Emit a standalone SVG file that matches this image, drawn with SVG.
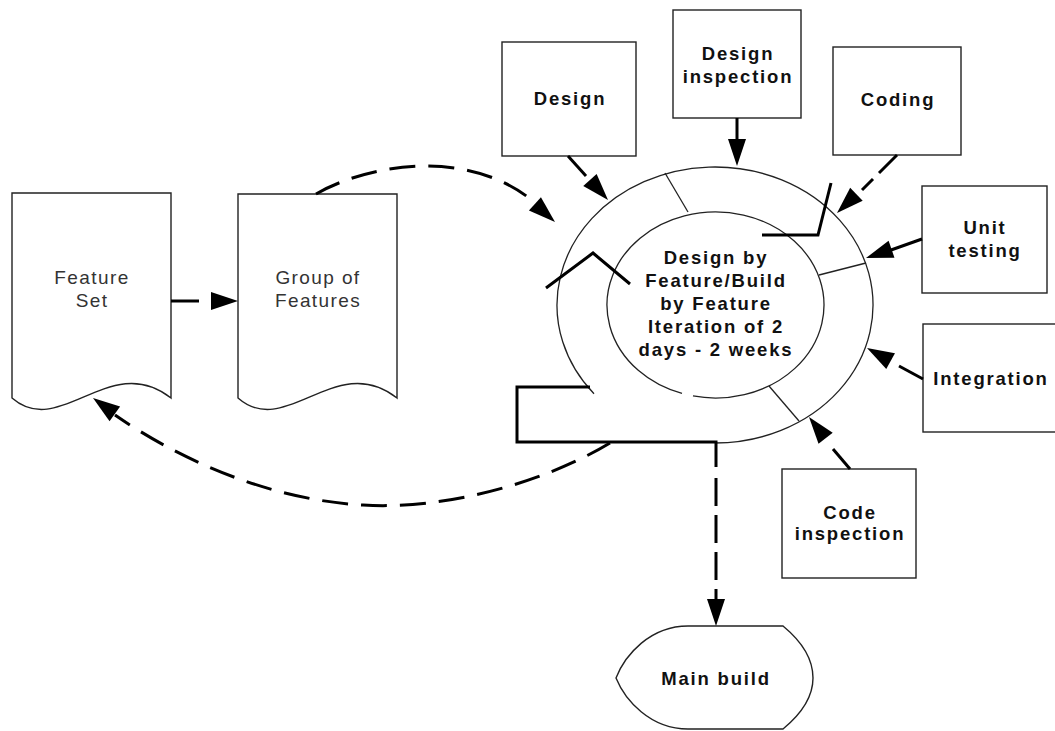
<svg xmlns="http://www.w3.org/2000/svg" xmlns:xlink="http://www.w3.org/1999/xlink" width="1055" height="731" viewBox="0 0 1055 731">
<style>
.box{fill:#fff;stroke:#222;stroke-width:1.4}
.thin{fill:none;stroke:#222;stroke-width:1.3}
.thick{fill:none;stroke:#000;stroke-width:3}
.dash{fill:none;stroke:#000;stroke-width:3;stroke-dasharray:26 13}
.ah{fill:#000;stroke:none}
.lb{font-family:"Liberation Sans",Arial,sans-serif;font-size:18.5px;font-weight:bold;fill:#111;text-anchor:middle;letter-spacing:1.8px}
.lr{font-family:"Liberation Sans",Arial,sans-serif;font-size:19px;fill:#333;text-anchor:middle;letter-spacing:1.4px}
</style>
<defs>
<path id="arrow" d="M0,0 L-27,-9 L-27,9 Z"/>
</defs>
<rect width="1055" height="731" fill="#fff"/>

<g id="feature-set">
<path class="box" d="M12,193 H171 V398 C110,350 60,440 12,398 Z"/>
<text class="lr" x="92" y="284">Feature</text>
<text class="lr" x="92" y="307">Set</text>
</g>

<g id="group-of-features">
<path class="box" d="M238,194 H397 V398 C336,350 286,440 238,398 Z"/>
<text class="lr" x="318" y="284">Group of</text>
<text class="lr" x="318" y="307">Features</text>
</g>

<g id="iteration-cycle">
<path class="thin" d="M594,393.74 A158,138 0 1 1 715,443"/>
<path class="thin" d="M682,393.46 A108.5,93 0 1 1 693,395.98"/>
<line class="thin" x1="665" y1="173" x2="688" y2="212"/>
<line class="thin" x1="819" y1="275" x2="866" y2="263"/>
<line class="thin" x1="769" y1="386" x2="799" y2="421"/>
<polyline class="thick" points="546,288 593,253 630,284"/>
<polyline class="thick" points="831,183 818,235 762,235"/>
<polyline class="thick" points="590,387 517,387 517,442 716,442 716,467"/>
<text class="lb" x="716" y="264">Design by</text>
<text class="lb" x="716" y="287">Feature/Build</text>
<text class="lb" x="716" y="310">by Feature</text>
<text class="lb" x="716" y="333">Iteration of 2</text>
<text class="lb" x="716" y="356">days - 2 weeks</text>
</g>

<g id="design">
<rect class="box" x="502" y="42" width="134" height="114"/>
<text class="lb" x="570" y="105">Design</text>
</g>

<g id="design-inspection">
<rect class="box" x="673" y="10" width="128" height="108"/>
<text class="lb" x="738" y="60">Design</text>
<text class="lb" x="738" y="83">inspection</text>
</g>

<g id="coding">
<rect class="box" x="833" y="47" width="128" height="108"/>
<text class="lb" x="898" y="106">Coding</text>
</g>

<g id="unit-testing">
<rect class="box" x="922" y="186" width="125" height="107"/>
<text class="lb" x="985" y="234">Unit</text>
<text class="lb" x="985" y="257">testing</text>
</g>

<g id="integration">
<rect class="box" x="923" y="324" width="140" height="108"/>
<text class="lb" x="991" y="385">Integration</text>
</g>

<g id="code-inspection">
<rect class="box" x="782" y="469" width="134" height="109"/>
<text class="lb" x="850" y="519">Code</text>
<text class="lb" x="850" y="540">inspection</text>
</g>

<g id="main-build">
<path class="box" d="M688,626 H783 C800,640 813,658 813,678 C813,698 800,715 783,729 H688 C650,729 625,700 616,678 C625,655 650,626 688,626 Z"/>
<text class="lb" x="716" y="685">Main build</text>
</g>

<g id="connectors">
<line class="thick" x1="171" y1="301" x2="199" y2="301"/>
<use xlink:href="#arrow" class="ah" transform="translate(238,301)"/>

<path class="dash" d="M316,194 C370,163 470,148 534,202"/>
<use xlink:href="#arrow" class="ah" transform="translate(555,222) rotate(42)"/>

<line class="thick" x1="568" y1="156" x2="586" y2="176"/>
<use xlink:href="#arrow" class="ah" transform="translate(608,200) rotate(48)"/>

<line class="thick" x1="737" y1="118" x2="737" y2="141"/>
<use xlink:href="#arrow" class="ah" transform="translate(737,166) rotate(90)"/>

<line class="thick" x1="897" y1="155" x2="879" y2="173"/>
<line class="thick" x1="873" y1="179" x2="862" y2="190"/>
<use xlink:href="#arrow" class="ah" transform="translate(837,213) rotate(136)"/>

<line class="thick" x1="922" y1="239" x2="891" y2="250"/>
<use xlink:href="#arrow" class="ah" transform="translate(866,258) rotate(161)"/>

<line class="thick" x1="923" y1="379" x2="899" y2="366"/>
<use xlink:href="#arrow" class="ah" transform="translate(867,348) rotate(209)"/>

<line class="thick" x1="850" y1="469" x2="833" y2="449"/>
<use xlink:href="#arrow" class="ah" transform="translate(809,417) rotate(232)"/>

<path class="thick" d="M716,478 V600" style="stroke-dasharray:28 9"/>
<use xlink:href="#arrow" class="ah" transform="translate(716,626) rotate(90)"/>

<path class="dash" d="M610,443 C540,485 440,510 363,505 C270,500 180,460 115,415"/>
<use xlink:href="#arrow" class="ah" transform="translate(93,398) rotate(216)"/>
</g>
</svg>
